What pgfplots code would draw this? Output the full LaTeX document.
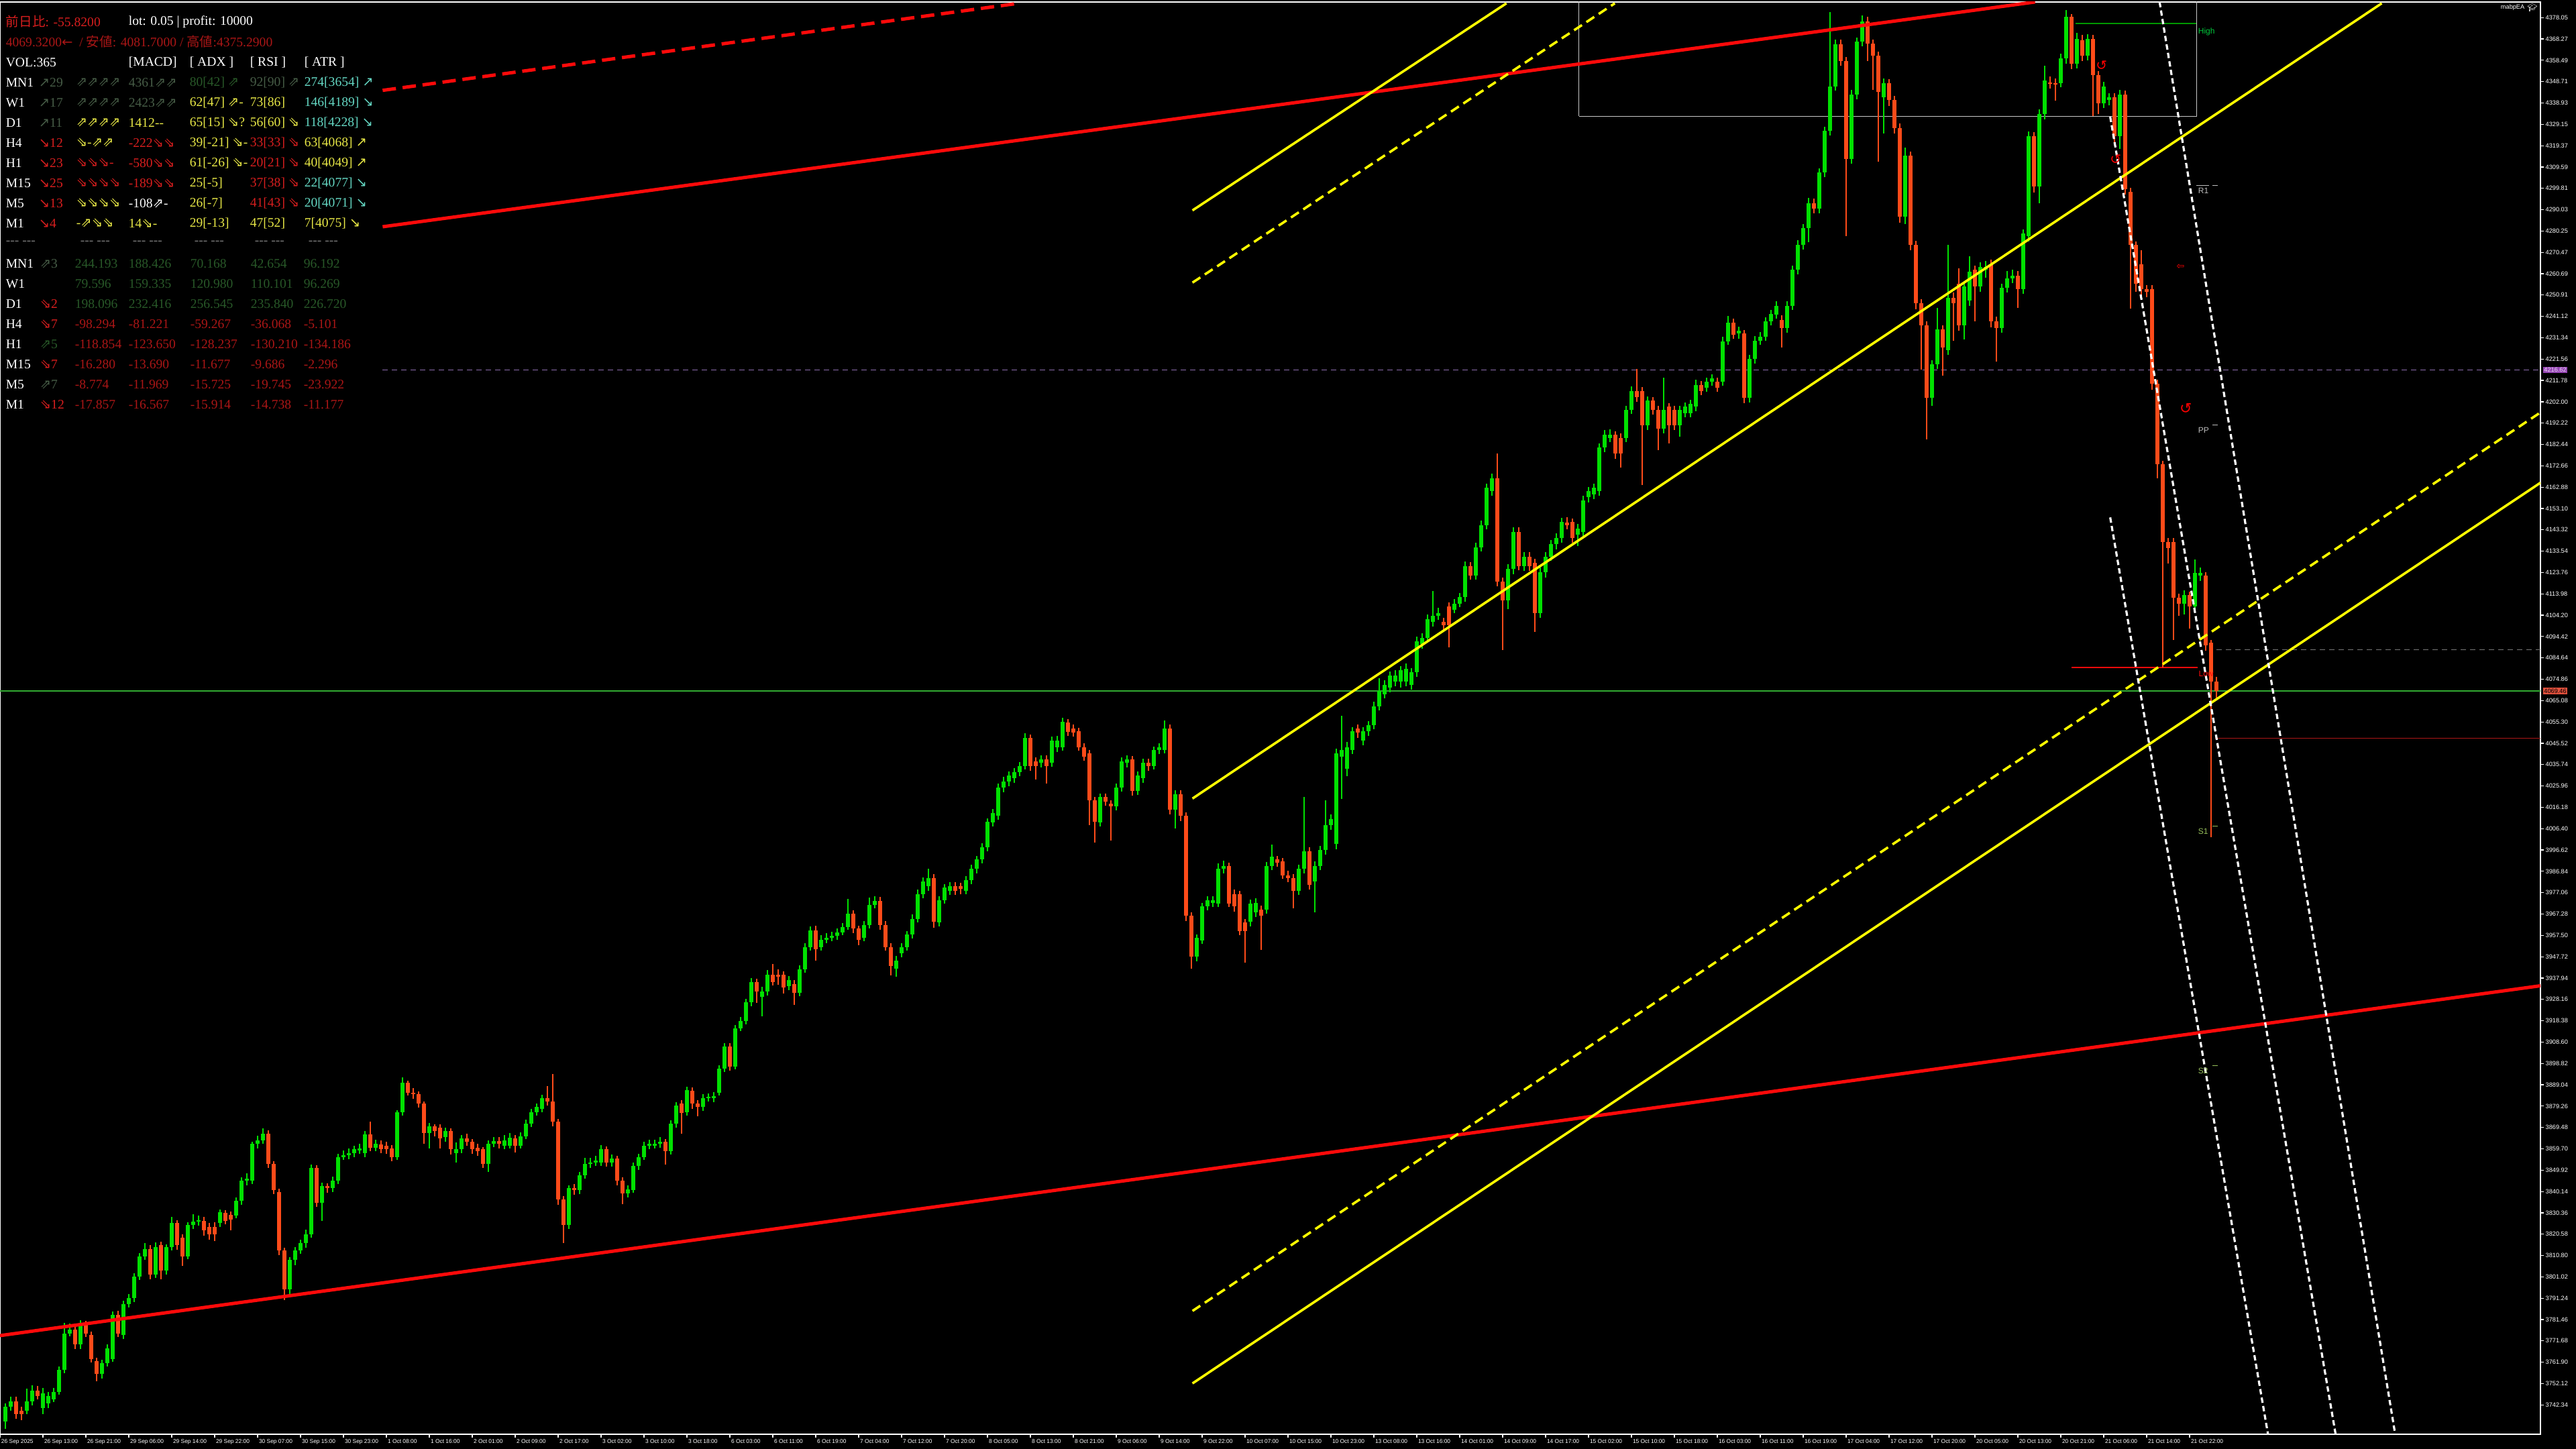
\documentclass[border=0pt]{standalone}
\usepackage{fontspec}
\setmainfont{Liberation Serif}
\newfontfamily\lsans{Liberation Sans}
\newfontfamily\af{DejaVu Sans}
\newfontfamily\jp{Noto Sans CJK JP}
\newfontfamily\emo{Noto Emoji}
\usepackage{pgfplots}
\usepackage{pgfplotstable}
\pgfplotsset{compat=1.18}

\definecolor{cg}{RGB}{0,225,0}
\definecolor{cr}{RGB}{255,75,25}
\definecolor{ylw}{RGB}{255,255,0}
\definecolor{rl}{RGB}{255,10,10}
\definecolor{dimg}{RGB}{70,92,70}
\definecolor{dgrn}{RGB}{40,88,40}
\definecolor{pyel}{RGB}{232,232,70}
\definecolor{cyn}{RGB}{100,215,195}
\definecolor{pred}{RGB}{215,30,30}
\definecolor{dred}{RGB}{170,22,22}
\definecolor{purp}{RGB}{140,110,175}
\definecolor{cur}{RGB}{50,170,50}
\definecolor{sepc}{RGB}{120,120,120}
\definecolor{boxc}{RGB}{200,200,200}
\definecolor{pivc}{RGB}{190,190,190}
\definecolor{pivs}{RGB}{150,190,90}

\newcommand\pf{\fontsize{4.9}{5.5}\selectfont}
\newcommand\tkf{\lsans\fontsize{2.3}{2.6}\selectfont}
\newcommand\ptxt[4]{\node[anchor=west,inner sep=0pt,text=#3,font=\pf] at (#1pt,#2pt) {#4};}
\newcommand\arU{{\af ↗}}
\newcommand\arD{{\af ↘}}
\newcommand\arUU{{\af ⇗}}
\newcommand\arDD{{\af ⇘}}
\newcommand\sep{{-}{-}{-}\ {-}{-}{-}}

% hourly candles: index, open, high, low, close
\pgfplotstableread{
i o h l c
1 3734.6 3743.1 3731.5 3741.4
2 3741.4 3746.0 3739.8 3743.9
3 3743.9 3746.2 3736.0 3738.0
4 3739.7 3741.5 3735.5 3738.0
5 3739.7 3749.8 3738.0 3743.9
6 3743.9 3751.2 3742.0 3749.0
7 3749.0 3751.0 3744.8 3746.5
8 3741.0 3750.0 3738.2 3747.5
9 3743.0 3748.2 3741.0 3746.5
10 3745.0 3750.2 3743.8 3748.4
11 3748.4 3760.0 3747.0 3758.3
12 3758.3 3779.8 3757.0 3775.1
13 3775.1 3779.5 3773.8 3776.8
14 3776.8 3779.2 3767.8 3770.0
15 3770.0 3781.2 3768.0 3779.3
16 3779.3 3781.0 3773.6 3775.1
17 3774.3 3776.0 3761.8 3763.3
18 3762.5 3764.0 3753.2 3756.6
19 3756.6 3763.0 3754.5 3761.5
20 3761.5 3770.0 3759.8 3768.4
21 3763.3 3785.0 3762.0 3783.5
22 3783.5 3785.5 3773.5 3775.1
23 3774.3 3790.0 3772.5 3788.6
24 3788.6 3793.0 3787.0 3791.2
25 3791.2 3802.8 3789.5 3801.2
26 3801.2 3812.0 3799.6 3810.5
27 3810.5 3816.5 3808.8 3813.8
28 3813.8 3815.5 3800.0 3802.1
29 3802.1 3816.8 3800.5 3814.7
30 3815.6 3817.2 3799.8 3803.8
31 3803.8 3816.0 3802.0 3814.7
32 3814.7 3828.4 3813.0 3825.7
33 3825.7 3827.0 3813.5 3815.6
34 3818.9 3820.5 3806.0 3810.5
35 3810.5 3826.0 3809.0 3824.8
36 3824.8 3829.8 3823.0 3826.5
37 3826.5 3829.2 3824.5 3827.0
38 3826.8 3828.4 3820.0 3822.3
39 3824.0 3825.8 3818.0 3820.6
40 3824.0 3826.0 3817.5 3820.6
41 3825.7 3832.0 3824.0 3830.7
42 3830.3 3831.5 3825.0 3826.5
43 3829.4 3831.0 3822.5 3827.4
44 3829.0 3837.5 3827.8 3835.8
45 3835.8 3846.5 3834.0 3845.1
46 3845.1 3848.5 3843.0 3845.9
47 3845.1 3863.0 3843.5 3861.9
48 3861.9 3865.8 3860.0 3863.6
49 3863.6 3869.0 3862.0 3866.5
50 3866.5 3868.0 3851.0 3852.7
51 3852.7 3854.0 3839.0 3840.9
52 3840.0 3841.5 3811.0 3813.0
53 3813.0 3814.5 3790.3 3795.3
54 3795.3 3810.2 3792.0 3808.8
55 3808.8 3814.8 3806.5 3813.0
56 3813.0 3818.0 3811.5 3816.4
57 3816.4 3822.5 3814.5 3820.6
58 3820.6 3852.5 3819.0 3851.0
59 3851.0 3852.2 3833.0 3835.0
60 3835.0 3844.2 3826.8 3842.5
61 3842.5 3844.0 3839.5 3841.7
62 3841.7 3846.8 3840.0 3845.1
63 3845.1 3857.5 3843.5 3856.0
64 3856.0 3859.0 3854.5 3856.9
65 3856.9 3859.8 3855.0 3857.7
66 3857.7 3861.0 3856.0 3859.4
67 3859.0 3862.0 3857.5 3859.8
68 3857.7 3867.8 3856.0 3866.2
69 3866.2 3872.0 3858.5 3860.2
70 3860.2 3864.0 3858.5 3861.9
71 3861.7 3863.5 3857.8 3859.4
72 3861.0 3862.8 3857.5 3859.4
73 3860.0 3861.5 3854.0 3856.0
74 3856.0 3877.5 3854.5 3876.3
75 3876.3 3892.3 3875.0 3890.1
76 3890.1 3891.0 3884.0 3885.5
77 3885.5 3887.5 3882.5 3884.7
78 3884.7 3886.0 3878.5 3880.5
79 3880.5 3881.5 3862.0 3867.0
80 3867.0 3871.5 3860.0 3869.9
81 3869.9 3871.0 3865.5 3867.8
82 3869.5 3871.0 3860.0 3864.5
83 3865.0 3869.5 3863.0 3867.8
84 3867.8 3869.0 3857.0 3859.4
85 3857.7 3862.5 3853.5 3859.4
86 3859.4 3866.0 3857.8 3864.5
87 3864.5 3866.5 3861.0 3862.8
88 3862.8 3864.0 3857.5 3859.4
89 3860.2 3862.0 3856.5 3858.6
90 3859.4 3860.5 3851.0 3852.7
91 3852.7 3863.5 3849.0 3861.9
92 3861.9 3865.0 3860.5 3863.1
93 3863.1 3865.0 3860.0 3861.9
94 3861.1 3866.0 3859.5 3863.6
95 3861.1 3867.0 3859.8 3864.8
96 3864.5 3866.0 3858.0 3861.1
97 3861.1 3867.2 3859.8 3865.3
98 3865.3 3873.0 3864.0 3871.2
99 3871.2 3878.0 3869.8 3876.3
100 3876.3 3880.5 3875.0 3878.8
101 3877.9 3884.5 3876.5 3883.0
102 3883.0 3888.4 3879.5 3881.3
103 3881.3 3894.0 3870.0 3872.1
104 3872.1 3873.5 3834.0 3836.6
105 3836.6 3838.0 3816.4 3824.8
106 3824.8 3843.0 3823.0 3841.7
107 3841.7 3843.5 3838.5 3840.9
108 3840.9 3849.0 3839.0 3847.6
109 3847.6 3855.5 3846.0 3852.7
110 3852.7 3855.5 3851.0 3853.5
111 3853.5 3856.5 3851.8 3854.4
112 3853.5 3861.5 3852.0 3859.4
113 3859.4 3860.8 3851.5 3853.5
114 3853.5 3857.0 3851.5 3855.2
115 3855.2 3856.5 3843.0 3845.1
116 3845.1 3846.5 3834.2 3839.2
117 3839.2 3843.0 3837.5 3841.0
118 3840.9 3853.5 3839.5 3851.8
119 3851.8 3857.5 3850.0 3856.0
120 3856.0 3862.8 3854.5 3861.1
121 3861.1 3864.0 3859.5 3861.9
122 3861.1 3863.8 3859.8 3861.9
123 3861.9 3865.0 3860.2 3862.8
124 3862.8 3864.0 3852.5 3858.6
125 3858.6 3872.8 3857.0 3871.2
126 3871.2 3881.0 3869.5 3879.6
127 3880.5 3882.0 3866.5 3876.3
128 3876.3 3888.2 3875.0 3886.7
129 3886.4 3887.8 3878.0 3880.5
130 3880.5 3882.0 3874.5 3878.8
131 3878.8 3884.8 3877.0 3883.0
132 3883.0 3885.0 3881.5 3883.4
133 3883.0 3885.8 3881.2 3883.9
134 3885.5 3898.0 3884.0 3896.5
135 3896.5 3908.0 3895.0 3906.6
136 3906.6 3908.0 3895.5 3897.4
137 3897.4 3916.5 3896.0 3915.0
138 3915.0 3920.0 3913.5 3918.4
139 3918.4 3928.5 3916.8 3926.9
140 3926.9 3938.0 3925.0 3936.1
141 3936.1 3937.5 3926.5 3931.9
142 3929.4 3934.0 3920.5 3931.9
143 3931.9 3941.5 3930.0 3939.5
144 3939.5 3944.5 3934.5 3936.1
145 3939.5 3942.0 3935.0 3938.6
146 3939.5 3941.0 3931.0 3933.6
147 3934.4 3939.0 3932.5 3936.9
148 3935.3 3937.0 3925.5 3931.1
149 3931.1 3943.8 3929.5 3942.0
150 3942.0 3953.8 3940.5 3952.1
151 3952.1 3961.5 3950.5 3959.7
152 3959.7 3962.0 3946.0 3951.3
153 3952.1 3957.5 3950.5 3955.5
154 3955.5 3958.5 3954.0 3956.3
155 3956.3 3959.0 3954.8 3957.2
156 3957.2 3960.8 3955.5 3958.9
157 3958.9 3963.0 3957.5 3961.4
158 3961.4 3974.1 3960.0 3967.3
159 3967.3 3969.0 3958.5 3960.6
160 3960.6 3962.0 3953.0 3955.5
161 3956.3 3964.0 3954.8 3962.3
162 3962.3 3974.9 3960.8 3971.5
163 3971.5 3975.5 3970.0 3973.2
164 3973.2 3975.0 3960.0 3962.3
165 3962.2 3964.0 3950.5 3952.2
166 3952.2 3954.0 3939.3 3943.6
167 3942.2 3948.0 3938.7 3946.0
168 3949.3 3954.0 3947.5 3952.2
169 3952.2 3959.5 3950.5 3957.9
170 3957.9 3967.0 3956.0 3965.1
171 3965.1 3978.5 3963.5 3976.5
172 3976.5 3984.0 3974.5 3982.3
173 3980.0 3988.0 3978.0 3983.7
174 3983.7 3985.5 3961.0 3963.6
175 3963.6 3975.5 3961.5 3973.7
176 3973.7 3981.0 3972.0 3979.4
177 3978.0 3982.0 3976.0 3980.0
178 3980.0 3981.8 3976.0 3978.0
179 3980.0 3981.5 3976.5 3978.8
180 3978.0 3984.5 3976.2 3982.8
181 3982.8 3989.8 3981.0 3988.0
182 3988.0 3994.0 3986.0 3992.3
183 3992.3 3999.8 3990.5 3998.0
184 3998.0 4011.0 3996.0 4009.4
185 4009.4 4015.5 4007.5 4013.7
186 4012.3 4027.0 4010.5 4025.2
187 4025.2 4030.0 4023.0 4028.0
188 4028.0 4032.5 4026.0 4030.9
189 4029.5 4034.0 4027.5 4032.3
190 4032.3 4037.0 4030.5 4035.2
191 4035.2 4050.0 4033.5 4048.1
192 4048.1 4049.5 4033.0 4035.2
193 4037.2 4039.0 4029.0 4035.2
194 4036.6 4040.0 4034.5 4038.1
195 4038.1 4040.0 4027.0 4035.2
196 4036.6 4048.5 4034.8 4046.6
197 4043.8 4049.0 4041.5 4046.6
198 4043.8 4057.2 4042.0 4055.2
199 4055.2 4056.5 4049.0 4050.9
200 4052.4 4054.0 4048.5 4050.4
201 4050.9 4052.5 4042.0 4043.8
202 4043.8 4045.5 4037.5 4039.5
203 4040.9 4042.5 4008.0 4019.5
204 4019.5 4021.0 4000.0 4009.4
205 4009.4 4022.5 4007.5 4020.9
206 4020.9 4022.5 4016.8 4018.9
207 4018.0 4019.5 4000.8 4016.6
208 4016.6 4027.0 4014.8 4025.2
209 4025.2 4039.0 4023.5 4037.2
210 4036.6 4040.0 4034.5 4038.1
211 4038.1 4039.8 4021.5 4023.7
212 4023.7 4032.5 4021.8 4030.9
213 4029.5 4038.5 4027.5 4036.6
214 4036.6 4038.5 4033.0 4035.2
215 4035.2 4044.0 4033.5 4042.4
216 4042.4 4045.5 4040.5 4043.8
217 4042.4 4056.1 4040.8 4052.4
218 4052.4 4054.0 4013.0 4015.2
219 4015.2 4024.0 4006.5 4022.3
220 4022.3 4024.0 4010.0 4012.3
221 4012.3 4014.0 3964.0 3966.5
222 3966.5 3968.0 3942.2 3947.9
223 3947.9 3958.0 3945.5 3956.5
224 3955.1 3972.5 3953.5 3970.8
225 3970.8 3975.5 3969.0 3973.7
226 3972.2 3975.5 3970.5 3973.7
227 3972.2 3990.5 3970.5 3987.9
228 3987.9 3991.8 3986.0 3989.4
229 3989.4 3990.8 3970.5 3972.2
230 3976.5 3978.5 3968.5 3970.8
231 3976.5 3978.0 3957.5 3959.4
232 3963.6 3965.0 3945.0 3959.4
233 3963.6 3974.0 3961.5 3972.2
234 3967.9 3974.5 3966.0 3972.2
235 3969.4 3971.0 3950.8 3966.5
236 3969.4 3991.0 3967.5 3989.4
237 3989.4 3999.0 3987.5 3993.7
238 3992.3 3994.0 3989.0 3990.8
239 3991.4 3993.0 3983.5 3985.1
240 3985.1 3987.0 3981.8 3983.7
241 3983.7 3985.5 3970.0 3978.0
242 3978.0 3990.0 3976.0 3988.0
243 3988.0 4020.9 3986.0 3996.0
244 3996.0 3998.0 3978.5 3980.8
245 3982.3 3991.5 3968.0 3989.4
246 3989.4 3998.5 3987.5 3996.6
247 3996.6 4019.5 3994.5 4008.0
248 4008.0 4013.0 4006.0 4010.9
249 3999.4 4043.0 3997.0 4040.9
250 4039.5 4058.1 4020.0 4042.4
251 4033.8 4046.0 4030.5 4043.8
252 4042.4 4053.0 4040.5 4051.0
253 4052.4 4054.0 4048.0 4050.4
254 4046.6 4053.0 4044.5 4051.0
255 4051.0 4055.8 4049.0 4053.8
256 4053.8 4064.5 4052.0 4062.4
257 4062.4 4075.3 4060.5 4069.5
258 4068.1 4074.5 4066.0 4072.4
259 4071.0 4078.5 4069.0 4076.7
260 4073.8 4079.0 4071.5 4076.7
261 4073.8 4081.0 4071.0 4079.0
262 4073.8 4082.0 4071.5 4079.6
263 4072.4 4080.0 4070.0 4078.1
264 4078.1 4094.5 4076.0 4092.4
265 4091.0 4096.0 4089.0 4093.9
266 4093.9 4104.5 4092.0 4102.5
267 4101.0 4115.3 4099.0 4103.9
268 4103.9 4107.5 4102.0 4105.3
269 4101.0 4103.0 4097.5 4099.6
270 4108.2 4110.0 4089.6 4099.6
271 4106.8 4111.5 4105.0 4109.6
272 4109.6 4114.5 4107.8 4112.5
273 4112.5 4128.8 4110.5 4126.8
274 4126.8 4128.5 4120.5 4122.5
275 4122.5 4137.5 4120.5 4135.4
276 4135.4 4147.5 4133.5 4145.4
277 4145.4 4164.5 4143.5 4162.6
278 4161.1 4169.0 4159.0 4166.8
279 4166.8 4178.3 4117.5 4119.6
280 4119.6 4121.5 4088.1 4111.0
281 4111.0 4127.5 4107.0 4125.4
282 4125.4 4144.5 4123.0 4142.5
283 4142.5 4144.5 4124.8 4126.8
284 4126.8 4133.0 4124.5 4131.1
285 4131.1 4133.0 4124.5 4126.8
286 4128.2 4130.0 4096.7 4105.3
287 4105.3 4126.0 4103.0 4123.9
288 4123.9 4133.0 4121.5 4131.1
289 4131.1 4138.8 4129.0 4136.8
290 4136.8 4141.8 4134.5 4139.7
291 4139.7 4148.8 4137.5 4146.8
292 4146.8 4149.0 4143.5 4145.4
293 4146.8 4148.5 4137.5 4139.7
294 4141.1 4146.0 4136.0 4143.9
295 4142.5 4159.0 4140.5 4156.8
296 4158.3 4163.0 4156.0 4161.1
297 4159.7 4164.5 4157.5 4162.6
298 4161.1 4183.0 4159.0 4181.2
299 4181.2 4189.0 4179.0 4186.9
300 4185.4 4189.5 4183.5 4186.9
301 4186.9 4188.5 4176.0 4178.3
302 4185.4 4187.5 4172.0 4178.3
303 4185.4 4200.0 4183.5 4198.3
304 4198.3 4209.0 4196.5 4206.9
305 4206.9 4216.9 4202.0 4204.0
306 4206.9 4208.8 4164.0 4191.2
307 4191.2 4204.5 4189.0 4202.6
308 4202.6 4204.0 4196.0 4198.3
309 4198.3 4200.0 4180.0 4189.7
310 4189.7 4213.0 4187.5 4198.3
311 4199.8 4201.5 4183.0 4191.2
312 4198.3 4200.0 4189.0 4191.2
313 4191.2 4200.0 4186.0 4198.3
314 4196.9 4201.8 4195.0 4199.8
315 4196.9 4203.0 4195.0 4201.2
316 4199.8 4212.0 4197.8 4209.8
317 4209.8 4211.5 4205.0 4206.9
318 4208.3 4213.0 4206.5 4211.2
319 4211.2 4214.5 4209.5 4212.6
320 4211.2 4213.0 4206.5 4208.3
321 4211.2 4231.8 4209.5 4229.8
322 4229.8 4241.3 4228.0 4238.4
323 4238.4 4240.0 4230.8 4232.7
324 4233.2 4236.5 4231.0 4234.5
325 4233.2 4235.0 4201.5 4203.8
326 4203.8 4223.5 4201.8 4221.7
327 4221.7 4232.0 4219.5 4230.1
328 4230.1 4234.0 4228.0 4231.9
329 4231.9 4240.8 4230.0 4238.8
330 4238.8 4244.0 4237.0 4242.1
331 4242.1 4248.0 4240.0 4245.9
332 4239.5 4241.5 4227.0 4235.7
333 4235.7 4248.0 4233.8 4245.9
334 4245.9 4264.5 4244.0 4262.5
335 4262.5 4276.0 4260.5 4273.9
336 4273.9 4283.5 4271.8 4281.6
337 4281.6 4295.5 4275.0 4293.0
338 4293.0 4295.0 4288.5 4290.5
339 4290.5 4309.0 4288.5 4307.1
340 4307.1 4328.0 4305.0 4326.2
341 4326.2 4380.5 4324.0 4346.6
342 4346.6 4368.0 4344.5 4365.7
343 4365.7 4368.0 4356.0 4358.1
344 4358.1 4360.0 4277.8 4313.4
345 4313.4 4345.0 4311.0 4342.8
346 4342.8 4369.0 4340.5 4367.0
347 4367.0 4379.0 4365.0 4376.4
348 4376.4 4378.4 4358.0 4366.2
349 4366.2 4368.0 4345.0 4360.6
350 4360.6 4362.5 4312.0 4344.0
351 4341.5 4350.0 4325.0 4347.9
352 4347.9 4349.8 4337.5 4340.2
353 4340.2 4342.0 4325.0 4327.5
354 4327.5 4329.5 4284.0 4286.7
355 4286.7 4318.5 4283.5 4314.7
356 4314.7 4316.5 4271.5 4273.9
357 4273.9 4275.8 4244.5 4247.2
358 4247.2 4249.0 4216.6 4236.9
359 4236.9 4238.8 4184.7 4203.8
360 4203.8 4221.0 4200.0 4219.1
361 4219.1 4245.0 4217.0 4235.2
362 4235.2 4237.0 4214.0 4226.8
363 4225.5 4273.9 4223.5 4249.7
364 4249.7 4252.0 4230.0 4247.2
365 4256.1 4263.0 4234.5 4237.0
366 4237.0 4256.8 4230.5 4254.8
367 4248.4 4268.8 4246.0 4261.7
368 4262.5 4264.5 4239.0 4254.8
369 4254.8 4266.0 4252.5 4263.8
370 4262.5 4266.5 4259.0 4263.8
371 4265.0 4267.0 4236.0 4238.8
372 4238.8 4241.0 4220.4 4235.7
373 4235.7 4256.0 4233.5 4254.1
374 4254.1 4262.0 4252.0 4258.6
375 4258.6 4262.5 4256.5 4259.9
376 4259.9 4262.0 4245.0 4253.5
377 4253.5 4281.0 4251.5 4279.0
378 4277.8 4326.0 4275.5 4323.6
379 4323.6 4325.5 4298.0 4300.7
380 4300.7 4336.0 4293.0 4333.8
381 4333.8 4356.0 4331.5 4349.1
382 4348.4 4351.0 4345.5 4347.9
383 4347.9 4350.0 4340.0 4347.4
384 4347.9 4361.5 4346.0 4359.3
385 4359.3 4381.5 4357.0 4378.4
386 4378.4 4379.7 4354.5 4356.8
387 4356.8 4371.0 4354.8 4368.2
388 4367.7 4370.0 4358.0 4360.6
389 4360.6 4370.5 4358.5 4368.2
390 4368.2 4370.0 4333.0 4351.7
391 4351.7 4353.5 4333.8 4338.9
392 4338.9 4348.5 4336.5 4346.6
393 4340.2 4343.5 4338.0 4341.5
394 4341.5 4343.5 4321.0 4323.6
395 4323.6 4345.0 4318.0 4342.8
396 4342.8 4344.5 4297.0 4299.4
397 4298.2 4300.0 4244.6 4273.9
398 4273.9 4275.5 4252.5 4256.1
399 4265.0 4271.4 4251.0 4253.5
400 4253.5 4255.5 4250.0 4252.3
401 4253.5 4255.5 4207.5 4210.2
402 4210.2 4212.0 4166.9 4173.3
403 4173.3 4175.0 4080.2 4137.6
404 4137.6 4139.5 4128.0 4135.0
405 4137.6 4139.5 4093.0 4112.1
406 4112.1 4114.0 4104.0 4109.5
407 4109.5 4115.5 4104.5 4113.4
408 4113.4 4115.0 4098.0 4108.2
409 4108.2 4129.9 4106.0 4123.6
410 4122.3 4126.0 4120.0 4123.6
411 4122.3 4124.0 4088.0 4090.4
412 4091.7 4093.0 4002.5 4073.8
413 4073.8 4076.0 4066.5 4069.5
}\candles

\begin{document}
\begin{tikzpicture}
\useasboundingbox (0pt,0pt) rectangle (960pt,540pt);
\fill[black] (0pt,0pt) rectangle (960pt,540pt);
\begin{axis}[
  at={(0pt,5.5pt)}, anchor=south west,
  scale only axis, width=946.75pt, height=533.75pt,
  xmin=0, xmax=473.375, ymin=3728.9, ymax=4385.2,
  axis line style={white, line width=0.35pt},
  clip mode=individual,
  tick align=outside, major tick length=1.3pt,
  tick style={white, line width=0.3pt},
  xtick pos=left, ytick pos=right, yticklabel pos=right,
  xtick={0,8,...,408},
  xticklabels={26 Sep 2025, 26 Sep 13:00, 26 Sep 21:00, 29 Sep 06:00, 29 Sep 14:00, 29 Sep 22:00, 30 Sep 07:00, 30 Sep 15:00, 30 Sep 23:00, 1 Oct 08:00, 1 Oct 16:00, 2 Oct 01:00, 2 Oct 09:00, 2 Oct 17:00, 3 Oct 02:00, 3 Oct 10:00, 3 Oct 18:00, 6 Oct 03:00, 6 Oct 11:00, 6 Oct 19:00, 7 Oct 04:00, 7 Oct 12:00, 7 Oct 20:00, 8 Oct 05:00, 8 Oct 13:00, 8 Oct 21:00, 9 Oct 06:00, 9 Oct 14:00, 9 Oct 22:00, 10 Oct 07:00, 10 Oct 15:00, 10 Oct 23:00, 13 Oct 08:00, 13 Oct 16:00, 14 Oct 01:00, 14 Oct 09:00, 14 Oct 17:00, 15 Oct 02:00, 15 Oct 10:00, 15 Oct 18:00, 16 Oct 03:00, 16 Oct 11:00, 16 Oct 19:00, 17 Oct 04:00, 17 Oct 12:00, 17 Oct 20:00, 20 Oct 05:00, 20 Oct 13:00, 20 Oct 21:00, 21 Oct 06:00, 21 Oct 14:00, 21 Oct 22:00},
  x tick label style={font=\lsans\fontsize{2.1}{2.4}\selectfont, text=white, anchor=north west, inner sep=0.3pt},
  ytick={3742.34,3752.12,...,4378.1},
  scaled y ticks=false,
  y tick label style={font=\tkf, text=white, anchor=west, inner sep=0.4pt, /pgf/number format/.cd, fixed, fixed zerofill, precision=2, 1000 sep={}, assume math mode=true},
]
% horizontal levels
\addplot[purp, line width=0.3pt, dash pattern=on 2pt off 1.5pt] coordinates {(71.3,4216.62) (473.375,4216.62)};
\addplot[cur, line width=0.45pt] coordinates {(0,4069.46) (473.375,4069.46)};
\addplot[sepc, line width=0.3pt, dash pattern=on 2pt off 1.5pt] coordinates {(413,4088.4) (473.375,4088.4)};
\addplot[dred, line width=0.35pt] coordinates {(412.8,4047.8) (473.375,4047.8)};
\addplot[rl, line width=0.6pt] coordinates {(386,4080.2) (409.5,4080.2)};
\addplot[green!60!black, line width=0.4pt] coordinates {(386.7,4375.4) (409.3,4375.4)};
\addplot[boxc, line width=0.3pt] coordinates {(294.2,4332.8) (409.3,4332.8) (409.3,4390) (294.2,4390) (294.2,4332.8)};
% pivot levels
\addplot[pivc, line width=0.3pt] coordinates {(409.3,4301.1) (411.6,4301.1)};
\addplot[pivc, line width=0.3pt] coordinates {(412.3,4301.1) (413.3,4301.1)};
\addplot[pivc, line width=0.3pt] coordinates {(412.3,4191.4) (413.3,4191.4)};
\addplot[pivs, line width=0.3pt] coordinates {(412.3,4007.5) (413.3,4007.5)};
\addplot[pivs, line width=0.3pt] coordinates {(412.3,3897.8) (413.3,3897.8)};

% candles: wicks then bodies
\addplot[draw=none, forget plot, error bars/.cd, y dir=both, y explicit, error mark=none,
  error bar style={draw=cg, line width=0.4pt}]
  table[x=i, y expr={\thisrow{c}>=\thisrow{o} ? (\thisrow{h}+\thisrow{l})/2 : nan},
        y error expr={(\thisrow{h}-\thisrow{l})/2}] {\candles};
\addplot[draw=none, forget plot, error bars/.cd, y dir=both, y explicit, error mark=none,
  error bar style={draw=cr, line width=0.4pt}]
  table[x=i, y expr={\thisrow{c}<\thisrow{o} ? (\thisrow{h}+\thisrow{l})/2 : nan},
        y error expr={(\thisrow{h}-\thisrow{l})/2}] {\candles};
\addplot[draw=none, forget plot, error bars/.cd, y dir=both, y explicit, error mark=none,
  error bar style={draw=cg, line width=1.3pt}]
  table[x=i, y expr={\thisrow{c}>=\thisrow{o} ? (\thisrow{o}+\thisrow{c})/2 : nan},
        y error expr={max(abs(\thisrow{c}-\thisrow{o})/2,0.3)}] {\candles};
\addplot[draw=none, forget plot, error bars/.cd, y dir=both, y explicit, error mark=none,
  error bar style={draw=cr, line width=1.3pt}]
  table[x=i, y expr={\thisrow{c}<\thisrow{o} ? (\thisrow{o}+\thisrow{c})/2 : nan},
        y error expr={max(abs(\thisrow{c}-\thisrow{o})/2,0.3)}] {\candles};

% trend lines
\addplot[rl, line width=1.25pt] coordinates {(71.3,4282.2) (379.2,4385.2)};
\addplot[rl, line width=1.25pt, dash pattern=on 5pt off 2.5pt] coordinates {(71.3,4344.7) (189.8,4384.6)};
\addplot[rl, line width=1.25pt] coordinates {(0,3774.1) (473.375,3934.4)};
\addplot[ylw, line width=0.9pt] coordinates {(222.2,4289.7) (280.7,4384.6)};
\addplot[ylw, line width=0.9pt, dash pattern=on 3.5pt off 2pt] coordinates {(222.2,4256.6) (300.9,4384.6)};
\addplot[ylw, line width=0.9pt] coordinates {(222.2,4020.2) (443.8,4384.6)};
\addplot[ylw, line width=0.9pt, dash pattern=on 3.5pt off 2pt] coordinates {(222.2,3785.4) (473.375,4197.1)};
\addplot[ylw, line width=0.9pt] coordinates {(222.2,3752.2) (473.375,4164.9)};
\addplot[white, line width=0.8pt, dash pattern=on 2pt off 1.2pt] coordinates {(402.4,4385.2) (446.3,3728.9)};
\addplot[white, line width=0.8pt, dash pattern=on 2pt off 1.2pt] coordinates {(393.2,4332.6) (435.2,3728.9)};
\addplot[white, line width=0.8pt, dash pattern=on 2pt off 1.2pt] coordinates {(393.2,4149.0) (422.6,3728.9)};

% labels on the chart
\node[anchor=west, inner sep=0, text=green!70!cyan!80!black, font=\lsans\fontsize{3}{3}\selectfont] at (axis cs:409.5,4371.5) {High};
\node[anchor=west, inner sep=0, text=rl, font=\lsans\fontsize{3}{3}\selectfont] at (axis cs:409.6,4077.5) {Low};
\node[anchor=north west, inner sep=0.2pt, text=pivc, font=\lsans\fontsize{3}{3}\selectfont] at (axis cs:409.4,4300.5) {R1};
\node[anchor=north west, inner sep=0.2pt, text=pivc, font=\lsans\fontsize{3}{3}\selectfont] at (axis cs:409.4,4190.8) {PP};
\node[anchor=north west, inner sep=0.2pt, text=pivs, font=\lsans\fontsize{3}{3}\selectfont] at (axis cs:409.4,4006.9) {S1};
\node[anchor=north west, inner sep=0.2pt, text=pivs, font=\lsans\fontsize{3}{3}\selectfont] at (axis cs:409.4,3897.2) {S2};
\node[text=red, font=\af\fontsize{5}{5}\selectfont, inner sep=0] at (axis cs:391.6,4356) {↺};
\node[text=red, font=\af\fontsize{5}{5}\selectfont, inner sep=0] at (axis cs:394.2,4313) {↺};
\node[text=red, font=\af\fontsize{5.5}{5.5}\selectfont, inner sep=0] at (axis cs:407.3,4199) {↺};
\node[text=red, font=\af\fontsize{3.5}{3.5}\selectfont, inner sep=0] at (axis cs:406.3,4264) {⇦};

\coordinate (pb1) at (axis cs:473.375,4216.62);
\coordinate (pb2) at (axis cs:473.375,4069.46);
\end{axis}

% price boxes on the scale
\node[anchor=west, fill={rgb,255:red,150;green,70;blue,180}, text={rgb,255:red,235;green,215;blue,245}, inner sep=0.35pt, font=\tkf] at ([xshift=0.8pt]pb1) {4216.62};
\node[anchor=west, fill={rgb,255:red,225;green,80;blue,60}, text=black, inner sep=0.35pt, font=\tkf] at ([xshift=0.8pt]pb2) {4069.46};

% top right
\node[anchor=east, inner sep=0, text=white, font=\tkf] at (941pt,537.2pt) {mabpEA};
\node[anchor=west, inner sep=0, text=white, font=\emo\fontsize{3}{3}\selectfont] at (941.6pt,537.2pt) {🎓};

% info panel
\ptxt{2}{531.9}{pred}{{\jp 前日比}: -55.8200}
\ptxt{47.75}{531.9}{white}{lot: 0.05 | profit: 10000}
\ptxt{2}{524.4}{dred}{4069.3200{\af ←}\ \ / {\jp 安値}: 4081.7000 / {\jp 高値}:4375.2900}
\ptxt{2}{516.8}{white}{VOL:365}
\ptxt{47.75}{516.8}{white}{[MACD]}
\ptxt{70.5}{516.8}{white}{[ ADX ]}
\ptxt{93}{516.8}{white}{[ RSI ]}
\ptxt{113.25}{516.8}{white}{[ ATR ]}

\ptxt{2}{509.3}{white}{MN1}
\ptxt{14.25}{509.3}{dimg}{\arU 29}
\ptxt{28.25}{509.3}{dimg}{\arUU\arUU\arUU\arUU}
\ptxt{47.75}{509.3}{dimg}{4361\arUU\arUU}
\ptxt{70.5}{509.3}{dgrn}{80[42] \arUU}
\ptxt{93}{509.3}{dimg}{92[90] \arUU}
\ptxt{113.25}{509.3}{cyn}{274[3654] \arU}

\ptxt{2}{501.8}{white}{W1}
\ptxt{14.25}{501.8}{dimg}{\arU 17}
\ptxt{28.25}{501.8}{dimg}{\arUU\arUU\arUU\arUU}
\ptxt{47.75}{501.8}{dimg}{2423\arUU\arUU}
\ptxt{70.5}{501.8}{pyel}{62[47] \arUU-}
\ptxt{93}{501.8}{pyel}{73[86]}
\ptxt{113.25}{501.8}{cyn}{146[4189] \arD}

\ptxt{2}{494.3}{white}{D1}
\ptxt{14.25}{494.3}{dimg}{\arU 11}
\ptxt{28.25}{494.3}{pyel}{\arUU\arUU\arUU\arUU}
\ptxt{47.75}{494.3}{pyel}{1412{-}{-}}
\ptxt{70.5}{494.3}{pyel}{65[15] \arDD?}
\ptxt{93}{494.3}{pyel}{56[60] \arDD}
\ptxt{113.25}{494.3}{cyn}{118[4228] \arD}

\ptxt{2}{486.8}{white}{H4}
\ptxt{14.25}{486.8}{pred}{\arD 12}
\ptxt{28.25}{486.8}{pyel}{\arDD-\arUU\arUU}
\ptxt{47.75}{486.8}{pred}{-222\arDD\arDD}
\ptxt{70.5}{486.8}{pyel}{39[-21] \arDD-}
\ptxt{93}{486.8}{pred}{33[33] \arDD}
\ptxt{113.25}{486.8}{pyel}{63[4068] \arU}

\ptxt{2}{479.3}{white}{H1}
\ptxt{14.25}{479.3}{pred}{\arD 23}
\ptxt{28.25}{479.3}{pred}{\arDD\arDD\arDD-}
\ptxt{47.75}{479.3}{pred}{-580\arDD\arDD}
\ptxt{70.5}{479.3}{pyel}{61[-26] \arDD-}
\ptxt{93}{479.3}{pred}{20[21] \arDD}
\ptxt{113.25}{479.3}{pyel}{40[4049] \arU}

\ptxt{2}{471.8}{white}{M15}
\ptxt{14.25}{471.8}{pred}{\arD 25}
\ptxt{28.25}{471.8}{pred}{\arDD\arDD\arDD\arDD}
\ptxt{47.75}{471.8}{pred}{-189\arDD\arDD}
\ptxt{70.5}{471.8}{pyel}{25[-5]}
\ptxt{93}{471.8}{pred}{37[38] \arDD}
\ptxt{113.25}{471.8}{cyn}{22[4077] \arD}

\ptxt{2}{464.3}{white}{M5}
\ptxt{14.25}{464.3}{pred}{\arD 13}
\ptxt{28.25}{464.3}{pyel}{\arDD\arDD\arDD\arDD}
\ptxt{47.75}{464.3}{white}{-108\arUU-}
\ptxt{70.5}{464.3}{pyel}{26[-7]}
\ptxt{93}{464.3}{pred}{41[43] \arDD}
\ptxt{113.25}{464.3}{cyn}{20[4071] \arD}

\ptxt{2}{456.8}{white}{M1}
\ptxt{14.25}{456.8}{pred}{\arD 4}
\ptxt{28.25}{456.8}{pyel}{-\arUU\arDD\arDD}
\ptxt{47.75}{456.8}{pyel}{14\arDD-}
\ptxt{70.5}{456.8}{pyel}{29[-13]}
\ptxt{93}{456.8}{pyel}{47[52]}
\ptxt{113.25}{456.8}{pyel}{7[4075] \arD}

\ptxt{2}{449.5}{sepc}{\sep}
\ptxt{29.75}{449.5}{sepc}{\sep}
\ptxt{49.25}{449.5}{sepc}{\sep}
\ptxt{72.25}{449.5}{sepc}{\sep}
\ptxt{94.75}{449.5}{sepc}{\sep}
\ptxt{114.75}{449.5}{sepc}{\sep}

\ptxt{2}{441.75}{white}{MN1}
\ptxt{14.75}{441.75}{dimg}{\arUU 3}
\ptxt{27.75}{441.75}{dgrn}{244.193}
\ptxt{47.75}{441.75}{dgrn}{188.426}
\ptxt{70.75}{441.75}{dgrn}{70.168}
\ptxt{93.25}{441.75}{dgrn}{42.654}
\ptxt{113}{441.75}{dgrn}{96.192}

\ptxt{2}{434.25}{white}{W1}
\ptxt{27.75}{434.25}{dgrn}{79.596}
\ptxt{47.75}{434.25}{dgrn}{159.335}
\ptxt{70.75}{434.25}{dgrn}{120.980}
\ptxt{93.25}{434.25}{dgrn}{110.101}
\ptxt{113}{434.25}{dgrn}{96.269}

\ptxt{2}{426.75}{white}{D1}
\ptxt{14.75}{426.75}{pred}{\arDD 2}
\ptxt{27.75}{426.75}{dgrn}{198.096}
\ptxt{47.75}{426.75}{dgrn}{232.416}
\ptxt{70.75}{426.75}{dgrn}{256.545}
\ptxt{93.25}{426.75}{dgrn}{235.840}
\ptxt{113}{426.75}{dgrn}{226.720}

\ptxt{2}{419.25}{white}{H4}
\ptxt{14.75}{419.25}{pred}{\arDD 7}
\ptxt{27.75}{419.25}{dred}{-98.294}
\ptxt{47.75}{419.25}{dred}{-81.221}
\ptxt{70.75}{419.25}{dred}{-59.267}
\ptxt{93.25}{419.25}{dred}{-36.068}
\ptxt{113}{419.25}{dred}{-5.101}

\ptxt{2}{411.75}{white}{H1}
\ptxt{14.75}{411.75}{dgrn}{\arUU 5}
\ptxt{27.75}{411.75}{dred}{-118.854}
\ptxt{47.75}{411.75}{dred}{-123.650}
\ptxt{70.75}{411.75}{dred}{-128.237}
\ptxt{93.25}{411.75}{dred}{-130.210}
\ptxt{113}{411.75}{dred}{-134.186}

\ptxt{2}{404.25}{white}{M15}
\ptxt{14.75}{404.25}{pred}{\arDD 7}
\ptxt{27.75}{404.25}{dred}{-16.280}
\ptxt{47.75}{404.25}{dred}{-13.690}
\ptxt{70.75}{404.25}{dred}{-11.677}
\ptxt{93.25}{404.25}{dred}{-9.686}
\ptxt{113}{404.25}{dred}{-2.296}

\ptxt{2}{396.75}{white}{M5}
\ptxt{14.75}{396.75}{dimg}{\arUU 7}
\ptxt{27.75}{396.75}{dred}{-8.774}
\ptxt{47.75}{396.75}{dred}{-11.969}
\ptxt{70.75}{396.75}{dred}{-15.725}
\ptxt{93.25}{396.75}{dred}{-19.745}
\ptxt{113}{396.75}{dred}{-23.922}

\ptxt{2}{389.25}{white}{M1}
\ptxt{14.75}{389.25}{pred}{\arDD 12}
\ptxt{27.75}{389.25}{dred}{-17.857}
\ptxt{47.75}{389.25}{dred}{-16.567}
\ptxt{70.75}{389.25}{dred}{-15.914}
\ptxt{93.25}{389.25}{dred}{-14.738}
\ptxt{113}{389.25}{dred}{-11.177}
\end{tikzpicture}
\end{document}
